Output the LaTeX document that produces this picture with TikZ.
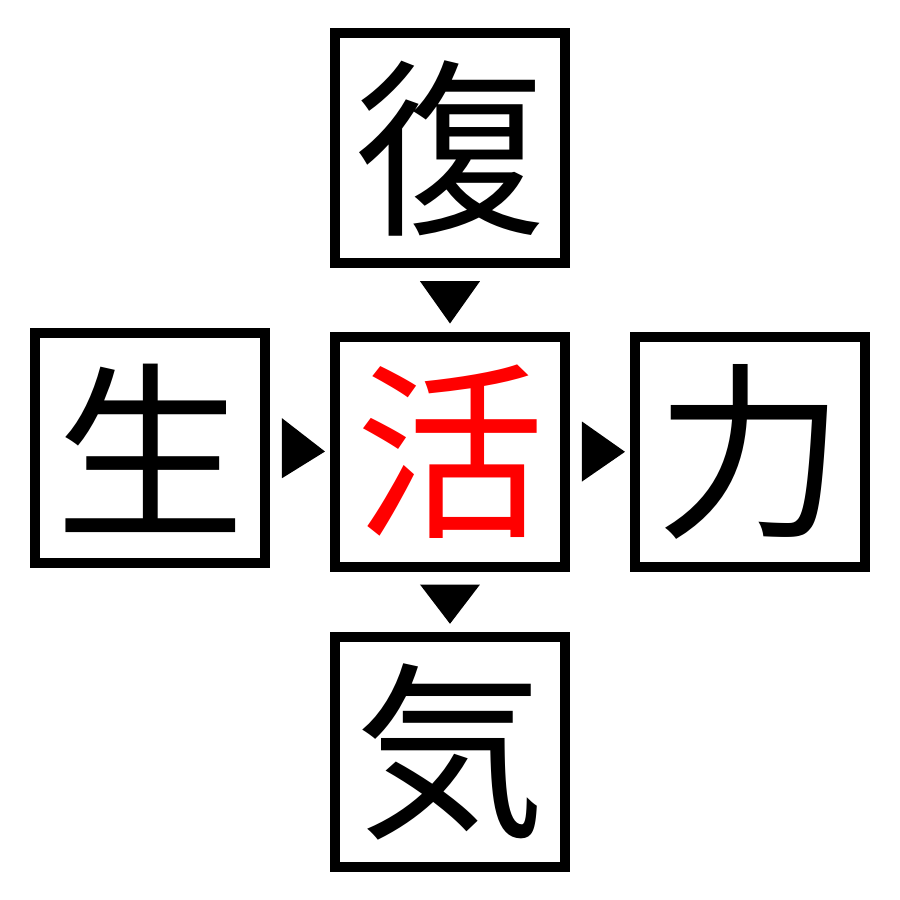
\documentclass[tikz,border=0pt]{standalone}
\usepackage{fontspec}
\newfontfamily\jp{Noto Sans CJK JP}
\usetikzlibrary{matrix,calc}

\begin{document}
\begin{tikzpicture}
\useasboundingbox (-4.5,-4.5) rectangle (4.5,4.5);
\matrix (m) [matrix of nodes, column sep=0.6cm, row sep=0.6cm,
  nodes = {draw, line width=1mm, outer sep=0.05cm, inner sep=0pt,
           minimum size=2.3cm, font=\jp\fontsize{54}{54}\selectfont}] {
        & 復                  &    \\
生      & |[text=red]| 活     & 力 \\
        & 気                  &    \\
};
\fill ($(m-2-1.east)+(0.12,0.3)$) -- ($(m-2-2.west)+(-0.05,0)$) -- ($(m-2-1.east)+(0.12,-0.3)$) -- cycle;
\fill ($(m-2-2.east)+(0.12,0.3)$) -- ($(m-2-3.west)+(-0.05,0)$) -- ($(m-2-2.east)+(0.12,-0.3)$) -- cycle;
\fill ($(m-1-2.south)+(-0.3,-0.13)$) -- ($(m-2-2.north)+(0,0.08)$) -- ($(m-1-2.south)+(0.3,-0.13)$) -- cycle;
\fill ($(m-2-2.south)+(-0.3,-0.13)$) -- ($(m-3-2.north)+(0,0.08)$) -- ($(m-2-2.south)+(0.3,-0.13)$) -- cycle;
\end{tikzpicture}
\end{document}
